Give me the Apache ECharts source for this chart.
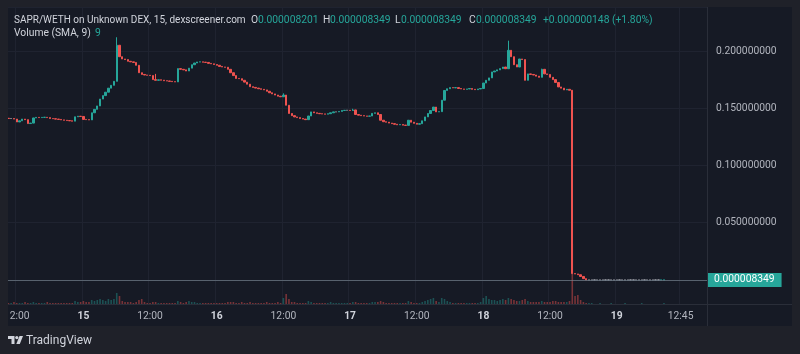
<!DOCTYPE html>
<html>
<head>
<meta charset="utf-8">
<script src="https://cdn.jsdelivr.net/npm/echarts@6.0.0/dist/echarts.min.js"></script>
<style>
  html, body { margin: 0; padding: 0; background: #1f2129; }
  #main { width: 800px; height: 354px; }
</style>
</head>
<body>
<div id="main"></div>
<script>
var myChart = echarts.init(document.getElementById("main"));

// 30 minute bar slots, first one is the 14th 10:30
const categories = [];
for (let i = 0; i < 252; i++) {
  const m = 10 * 60 + 30 + i * 30;
  const day = 14 + Math.floor(m / 1440);
  const hh = Math.floor((m % 1440) / 60);
  const mm = m % 60;
  categories.push(day + " " + String(hh).padStart(2, "0") + ":" + String(mm).padStart(2, "0"));
}

// close of each bar (WETH)
const firstOpen = 0.1412;
const closes = [
  0.141, 0.141, 0.1405, 0.138, 0.139, 0.1405, 0.140, 0.1366, 0.137, 0.1415,
  0.142, 0.1418, 0.142, 0.1421, 0.1418, 0.141, 0.1408, 0.1405, 0.1402, 0.1398,
  0.1395, 0.1392, 0.139, 0.1387, 0.1425, 0.143, 0.1428, 0.1402, 0.140, 0.1398,
  0.146, 0.149, 0.152, 0.158, 0.161, 0.164, 0.1675, 0.170, 0.1735, 0.205,
  0.195, 0.193, 0.1925, 0.191, 0.1905, 0.190, 0.1875, 0.181, 0.1795, 0.179,
  0.1788, 0.1785, 0.175, 0.1744, 0.1748, 0.1745, 0.174, 0.1738, 0.1735, 0.1732,
  0.173, 0.1846, 0.184, 0.1835, 0.1825, 0.185, 0.188, 0.1895, 0.1904, 0.1905,
  0.1902, 0.190, 0.1892, 0.1888, 0.1882, 0.1875, 0.1865, 0.186, 0.1858, 0.184,
  0.181, 0.1785, 0.176, 0.1758, 0.1744, 0.1728, 0.171, 0.1688, 0.1682, 0.1676,
  0.167, 0.1665, 0.166, 0.1648, 0.1635, 0.1625, 0.1615, 0.1605, 0.160, 0.1615,
  0.1526, 0.1454, 0.1435, 0.1424, 0.1418, 0.141, 0.1405, 0.140, 0.1432, 0.1468,
  0.146, 0.1455, 0.1452, 0.145, 0.1448, 0.1452, 0.146, 0.1468, 0.1468, 0.1472,
  0.148, 0.1482, 0.1482, 0.148, 0.1485, 0.1445, 0.1439, 0.1435, 0.1432, 0.143,
  0.1432, 0.1455, 0.146, 0.1445, 0.1395, 0.1382, 0.1378, 0.137, 0.1365, 0.136,
  0.1355, 0.1358, 0.1352, 0.135, 0.1395, 0.1378, 0.1368, 0.136, 0.1365, 0.139,
  0.1424, 0.1454, 0.148, 0.151, 0.1468, 0.147, 0.157, 0.1655, 0.167, 0.168,
  0.1678, 0.168, 0.1672, 0.1668, 0.1665, 0.1668, 0.1672, 0.1665, 0.1662, 0.1668,
  0.1672, 0.172, 0.1744, 0.1765, 0.1817, 0.1825, 0.1835, 0.1846, 0.186, 0.1845,
  0.2006, 0.195, 0.188, 0.186, 0.193, 0.1925, 0.1744, 0.180, 0.1795, 0.179,
  0.178, 0.177, 0.184, 0.180, 0.1795, 0.177, 0.175, 0.1725, 0.1686, 0.1675,
  0.166, 0.1665, 0.1657, 0.0055, 0.0052, 0.0045, 0.003, 0.0011, 0.0000082, 0.0000082,
  0.0000082, 0.0000082, 0.0000082, 0.0000082, 0.0000082, 0.0000082, 0.0000082, 0.0000082, 0.0000082, 0.0000082,
  0.0000082, 0.0000082, 0.0000082, 0.0000082, 0.0000082, 0.0000082, 0.0000082, 0.0000082, 0.0000082, 0.0000082,
  0.0000082, 0.0000082, 0.0000082, 0.0000082, 0.0000082, 0.000008201, 0.000008349
];

// bars whose wick goes above the body
const wickBars = [39, 53, 99, 124, 180, 192];
const wickHighs = [0.212, 0.180, 0.163, 0.1495, 0.209, 0.1845];

// volume per bar (relative units)
const volumes = [
  1, 1, 2, 1, 1, 1, 2, 1, 1, 2,
  1, 1, 1, 1, 2, 1, 1, 1, 1, 1,
  1, 1, 1, 1, 3, 2, 2, 3, 2, 2,
  4, 3, 4, 5, 4, 3, 5, 4, 5, 11,
  8, 3, 2, 2, 2, 1, 2, 4, 5, 2,
  1, 1, 2, 2, 1, 1, 1, 1, 1, 1,
  1, 3, 2, 1, 2, 3, 2, 2, 1, 1,
  1, 1, 1, 1, 1, 1, 1, 1, 1, 2,
  2, 2, 1, 1, 2, 1, 1, 2, 1, 1,
  1, 1, 1, 2, 1, 1, 1, 2, 1, 6,
  10, 5, 2, 2, 1, 1, 1, 1, 3, 2,
  1, 1, 1, 1, 1, 1, 2, 1, 1, 1,
  1, 1, 1, 1, 2, 2, 1, 1, 1, 1,
  1, 2, 2, 2, 3, 2, 1, 1, 1, 1,
  1, 1, 1, 1, 3, 2, 1, 1, 1, 2,
  3, 4, 5, 6, 3, 2, 6, 5, 3, 2,
  1, 1, 1, 1, 1, 1, 1, 1, 1, 1,
  2, 6, 8, 5, 4, 4, 3, 4, 5, 4,
  6, 5, 4, 3, 3, 4, 5, 3, 2, 2,
  2, 2, 3, 2, 2, 2, 3, 3, 2, 2,
  2, 2, 3, 60, 8, 9, 4, 2, 1, 1,
  1, 0, 0, 1, 0, 0, 0, 1, 0, 0,
  0, 0, 1, 0, 0, 0, 0, 0, 1, 0,
  0, 0, 0, 0, 0, 0, 1
];

// time axis labels and the bar they sit on
const tickBars = [3, 27, 51, 75, 99, 123, 147, 171, 195, 219, 242];
const tickLabels = ["12:00", "15", "12:00", "16", "12:00", "17", "12:00", "18", "12:00", "19", "12:45"];

const UP = "#26a69a";
const DOWN = "#ef5350";
const FONT = "Roboto, 'Noto Sans', sans-serif";

const candles = closes.map((c, i) => {
  const o = i === 0 ? firstOpen : closes[i - 1];
  let h = Math.max(o, c);
  const w = wickBars.indexOf(i);
  if (w >= 0) h = wickHighs[w];
  return [o, c, Math.min(o, c), h];
});
const volData = volumes.map((v, i) => ({
  value: v,
  itemStyle: { color: candles[i][1] >= candles[i][0] ? "rgba(38,166,154,0.4)" : "rgba(239,83,80,0.45)" },
}));
const lastClose = closes[closes.length - 1];

const showTick = (idx) => tickBars.indexOf(idx) >= 0;

function txt(x, y, text, fill, size, weight) {
  return {
    type: "text", x: x, y: y, z: 110,
    style: { text: text, fill: fill, font: (weight || "normal") + " " + size + "px " + FONT, textVerticalAlign: "middle", verticalAlign: "middle" },
  };
}

var option = {
  backgroundColor: "#161a25",
  animation: false,
  grid: { left: 7, right: 93, top: 7, bottom: 50 },
  xAxis: {
    type: "category",
    data: categories,
    boundaryGap: true,
    axisLine: { show: false },
    axisTick: { show: false, interval: showTick },
    splitLine: { show: true, interval: showTick, lineStyle: { color: "#1f2330", width: 1 } },
    axisLabel: {
      interval: showTick,
      margin: 7,
      formatter: (val, idx) => {
        const t = tickLabels[tickBars.indexOf(idx)];
        return t.indexOf(":") >= 0 ? "{t|" + t + "}" : "{d|" + t + "}";
      },
      rich: {
        t: { color: "#b2b5be", fontSize: 10.3, fontFamily: FONT },
        d: { color: "#d1d4dc", fontSize: 10.3, fontWeight: "bold", fontFamily: FONT },
      },
    },
  },
  yAxis: [
    {
      type: "value",
      position: "right",
      min: -0.02106,
      max: 0.23843,
      splitNumber: 5,
      axisLine: { show: false },
      axisTick: { show: false },
      splitLine: { lineStyle: { color: "#1f2330", width: 1 } },
      axisLabel: {
        margin: 9,
        color: "#b2b5be",
        fontSize: 10.3,
        fontFamily: FONT,
        showMinLabel: false,
        showMaxLabel: false,
        formatter: (v) => (v < -1e-9 || v > 0.2001 ? "" : v.toFixed(9)),
      },
    },
    { type: "value", min: 0, max: 297, show: false },
  ],
  series: [
    {
      name: "Volume",
      type: "bar",
      yAxisIndex: 1,
      data: volData,
      barWidth: 1.6,
      z: 1,
    },
    {
      name: "SAPR/WETH",
      type: "candlestick",
      data: candles,
      barWidth: 1.8,
      z: 3,
      itemStyle: {
        color: UP, color0: DOWN,
        borderColor: UP, borderColor0: DOWN, borderColorDoji: "#9598a1",
        borderWidth: 1,
      },
      markLine: {
        silent: true,
        symbol: ["none", "none"],
        data: [{ yAxis: lastClose }],
        lineStyle: { color: "rgba(120,132,145,0.65)", type: "solid", width: 1 },
        label: {
          position: "end",
          distance: 0,
          formatter: lastClose.toFixed(9),
          color: "#ffffff",
          fontSize: 10.3,
          fontFamily: FONT,
          backgroundColor: UP,
          padding: [2, 7, 2, 7],
        },
      },
    },
  ],
  graphic: [
    // outer frame
    { type: "rect", z: 100, shape: { x: 0, y: 0, width: 8, height: 354 }, style: { fill: "#1f2129" } },
    { type: "rect", z: 100, shape: { x: 0, y: 0, width: 800, height: 7 }, style: { fill: "#1f2129" } },
    { type: "rect", z: 100, shape: { x: 792, y: 0, width: 8, height: 354 }, style: { fill: "#1f2129" } },
    { type: "rect", z: 100, shape: { x: 0, y: 326, width: 800, height: 28 }, style: { fill: "#1f2129" } },
    // pane borders
    { type: "line", z: 101, shape: { x1: 8, y1: 304.5, x2: 792, y2: 304.5 }, style: { stroke: "#2a2e39", lineWidth: 1 } },
    { type: "line", z: 101, shape: { x1: 707.5, y1: 7, x2: 707.5, y2: 326 }, style: { stroke: "#2a2e39", lineWidth: 1 } },
    // legend
    txt(14, 20, "SAPR/WETH on Unknown DEX, 15, dexscreener.com", "#d1d4dc", 10),
    txt(251, 20, "O", "#d1d4dc", 10.3), txt(258, 20, "0.000008201", UP, 10.3),
    txt(323, 20, "H", "#d1d4dc", 10.3), txt(330, 20, "0.000008349", UP, 10.3),
    txt(395, 20, "L", "#d1d4dc", 10.3), txt(401, 20, "0.000008349", UP, 10.3),
    txt(469, 20, "C", "#d1d4dc", 10.3), txt(476, 20, "0.000008349", UP, 10.3),
    txt(543, 20, "+0.000000148 (+1.80%)", UP, 10.3),
    txt(14, 33.5, "Volume (SMA, 9)", "#d1d4dc", 10.3),
    txt(95, 33.5, "9", UP, 10.3),
    // TradingView logo
    { type: "polygon", z: 110, shape: { points: [[8, 336], [14.5, 336], [14.5, 344], [11.5, 344], [11.5, 339], [8, 339]] }, style: { fill: "#d1d4dc" } },
    { type: "circle", z: 110, shape: { cx: 16.8, cy: 337.6, r: 1.6 }, style: { fill: "#d1d4dc" } },
    { type: "polygon", z: 110, shape: { points: [[19.5, 336], [23, 336], [19.8, 344], [16.3, 344]] }, style: { fill: "#d1d4dc" } },
    txt(26, 340.5, "TradingView", "#d1d4dc", 12),
  ],
};

myChart.setOption(option);
</script>
</body>
</html>
